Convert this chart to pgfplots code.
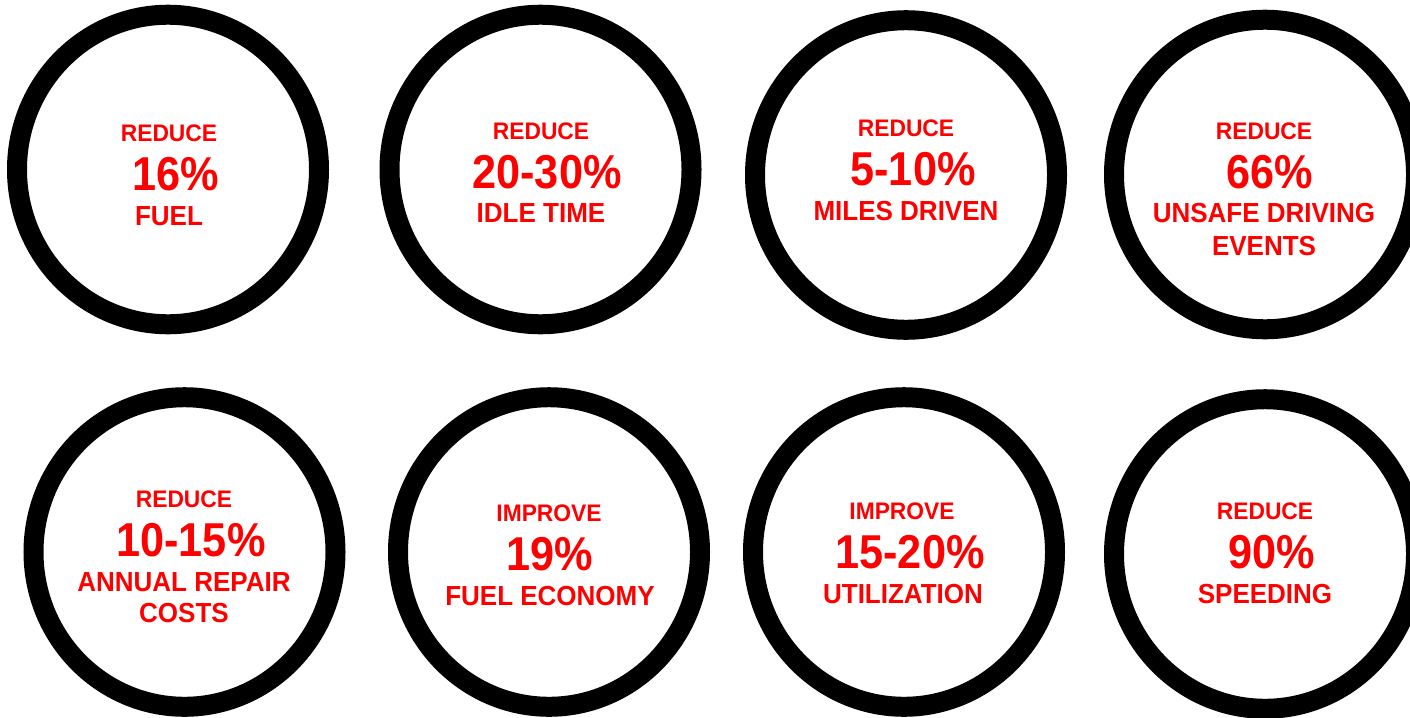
\documentclass[border=0pt]{standalone}
\usepackage{pgfplots}
\pgfplotsset{compat=1.18}
\usepackage{fontspec}
\setmainfont{Liberation Sans}
\definecolor{txtred}{RGB}{255,0,0}
\begin{document}
\begin{tikzpicture}[
  tw/.style={anchor=base, inner sep=0pt, text=txtred, font=\bfseries\fontsize{11.4pt}{12pt}\selectfont},
  nm/.style={anchor=base, inner sep=0pt, text=txtred, font=\bfseries\fontsize{21.6pt}{24pt}\selectfont},
  bw/.style={anchor=base, inner sep=0pt, text=txtred, font=\bfseries\fontsize{13pt}{14pt}\selectfont}]
\begin{axis}[
  width=705pt, height=358.5pt, scale only axis,
  xmin=0, xmax=1410, ymin=0, ymax=717, y dir=reverse,
  hide axis, clip=true]
\addplot[only marks, mark=o, mark size=75.5pt, line width=10pt, black,
  mark options={yscale=1.025}] coordinates {
  (168,169.5) (540.5,169.5) (906,175) (1265,174.5)
  (184.5,552) (549,552) (904,552) (1265,554)};
% circle 1
\node[tw] at (169,141) {\scalebox{1}[1.05]{REDUCE}};
\node[nm] at (176,190.7) {\scalebox{1}[1.1]{16\%}};
\node[bw] at (169,225.7) {\scalebox{1}[1.06]{FUEL}};
% circle 2
\node[tw] at (541,139) {\scalebox{1}[1.05]{REDUCE}};
\node[nm] at (547,188) {\scalebox{1}[1.1]{20-30\%}};
\node[bw] at (541,222.7) {\scalebox{1}[1.06]{IDLE TIME}};
% circle 3
\node[tw] at (906,136) {\scalebox{1}[1.05]{REDUCE}};
\node[nm] at (913,185) {\scalebox{1}[1.1]{5-10\%}};
\node[bw] at (906,220) {\scalebox{1}[1.06]{MILES DRIVEN}};
% circle 4
\node[tw] at (1264,139.3) {\scalebox{1}[1.05]{REDUCE}};
\node[nm] at (1270,188.3) {\scalebox{1}[1.1]{66\%}};
\node[bw] at (1264,222.7) {\scalebox{1}[1.06]{UNSAFE DRIVING}};
\node[bw] at (1264,255) {\scalebox{1}[1.06]{EVENTS}};
% circle 5
\node[tw] at (184,507.7) {\scalebox{1}[1.05]{REDUCE}};
\node[nm] at (191,556) {\scalebox{1}[1.1]{10-15\%}};
\node[bw] at (184,591) {\scalebox{1}[1.06]{ANNUAL REPAIR}};
\node[bw] at (184,622.3) {\scalebox{1}[1.06]{COSTS}};
% circle 6
\node[tw] at (549,521) {\scalebox{1}[1.05]{IMPROVE}};
\node[nm] at (550,570) {\scalebox{1}[1.1]{19\%}};
\node[bw] at (550,605) {\scalebox{1}[1.06]{FUEL ECONOMY}};
% circle 7
\node[tw] at (902,519.3) {\scalebox{1}[1.05]{IMPROVE}};
\node[nm] at (910,568.3) {\scalebox{1}[1.1]{15-20\%}};
\node[bw] at (903,603.3) {\scalebox{1}[1.06]{UTILIZATION}};
% circle 8
\node[tw] at (1265,519.3) {\scalebox{1}[1.05]{REDUCE}};
\node[nm] at (1272,568.3) {\scalebox{1}[1.1]{90\%}};
\node[bw] at (1265,603.3) {\scalebox{1}[1.06]{SPEEDING}};
\end{axis}
\pgfresetboundingbox
\path[use as bounding box] (current axis.south west) rectangle (current axis.north east);
\end{tikzpicture}
\end{document}
